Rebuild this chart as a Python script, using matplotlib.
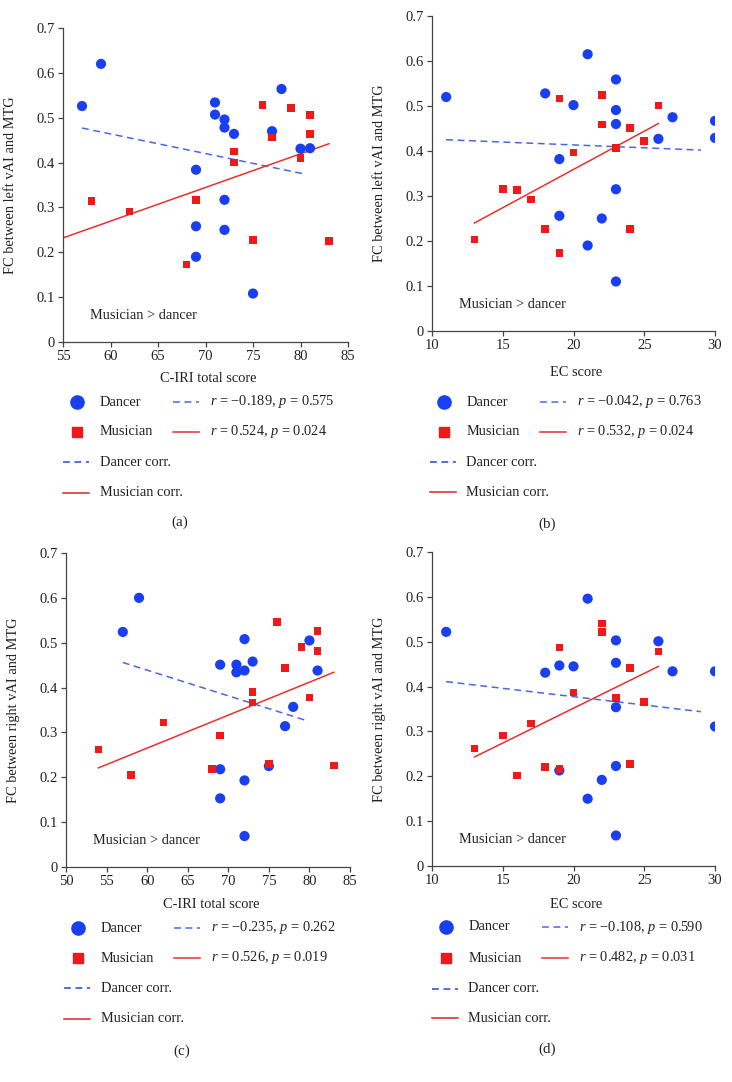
import matplotlib
matplotlib.use("Agg")
import matplotlib.pyplot as plt
from matplotlib.lines import Line2D

W, H = 732, 1082

plt.rcParams["font.family"] = ["Liberation Serif", "DejaVu Serif"]
plt.rcParams["mathtext.fontset"] = "custom"
plt.rcParams["mathtext.rm"] = "Liberation Serif"
plt.rcParams["mathtext.it"] = "Liberation Serif:italic"

BLUE = "#1a3ff0"
RED = "#ee1a1a"
BLUE_LINE = "#4a66e6"
RED_LINE = "#e8302f"

# ---- data ----
# (a) left vAI-MTG vs C-IRI total score
a_dancer_x = [57, 59, 71, 71, 72, 72, 73, 78, 77, 80, 81, 69, 72, 69, 72, 69, 75]
a_dancer_y = [0.526, 0.620, 0.534, 0.507, 0.496, 0.478, 0.464, 0.564, 0.470, 0.431, 0.432,
              0.384, 0.317, 0.258, 0.250, 0.190, 0.108]
a_musician_x = [58, 62, 69, 68, 73, 73, 75, 76, 77, 79, 81, 81, 80, 83]
a_musician_y = [0.315, 0.291, 0.317, 0.173, 0.425, 0.400, 0.227, 0.528, 0.456, 0.522,
                0.506, 0.464, 0.410, 0.225]
a_dancer_fit_x, a_dancer_fit_y = [57, 80.3], [0.477, 0.375]
a_musician_fit_x, a_musician_fit_y = [55, 83], [0.232, 0.442]

# (b) left vAI-MTG vs EC score
b_dancer_x = [11, 21, 23, 18, 20, 23, 23, 26, 27, 30, 30, 19, 23, 19, 22, 21, 23]
b_dancer_y = [0.520, 0.615, 0.559, 0.528, 0.502, 0.491, 0.460, 0.427, 0.475, 0.467, 0.429,
              0.382, 0.315, 0.256, 0.250, 0.190, 0.110]
b_musician_x = [19, 22, 22, 24, 26, 25, 23, 20, 15, 16, 17, 18, 24, 13, 19]
b_musician_y = [0.517, 0.524, 0.459, 0.451, 0.501, 0.422, 0.406, 0.397, 0.316, 0.314,
                0.292, 0.226, 0.227, 0.203, 0.174]
b_dancer_fit_x, b_dancer_fit_y = [11, 29], [0.425, 0.402]
b_musician_fit_x, b_musician_fit_y = [13, 26], [0.240, 0.461]

# (c) right vAI-MTG vs C-IRI total score
c_dancer_x = [57, 59, 72, 69, 71, 71, 72, 73, 80, 81, 78, 77, 75, 69, 72, 69, 72]
c_dancer_y = [0.524, 0.600, 0.508, 0.451, 0.451, 0.434, 0.438, 0.458, 0.505, 0.438, 0.357,
              0.314, 0.225, 0.218, 0.193, 0.153, 0.069]
c_musician_x = [54, 58, 62, 69, 68, 73, 73, 75, 76, 77, 79, 81, 81, 80, 83]
c_musician_y = [0.262, 0.205, 0.322, 0.293, 0.219, 0.390, 0.367, 0.229, 0.546, 0.443,
                0.490, 0.526, 0.482, 0.378, 0.226]
c_dancer_fit_x, c_dancer_fit_y = [57, 79.9], [0.456, 0.325]
c_musician_fit_x, c_musician_fit_y = [54, 83], [0.221, 0.434]

# (d) right vAI-MTG vs EC score
d_dancer_x = [11, 21, 23, 26, 23, 18, 19, 20, 27, 30, 23, 30, 23, 19, 22, 21, 23]
d_dancer_y = [0.522, 0.596, 0.503, 0.501, 0.453, 0.431, 0.447, 0.445, 0.434, 0.434, 0.354,
              0.311, 0.223, 0.213, 0.192, 0.150, 0.068]
d_musician_x = [13, 15, 16, 17, 18, 19, 19, 20, 22, 22, 23, 24, 24, 25, 26]
d_musician_y = [0.262, 0.291, 0.202, 0.318, 0.221, 0.216, 0.487, 0.387, 0.541, 0.522,
                0.375, 0.441, 0.228, 0.365, 0.478]
d_dancer_fit_x, d_dancer_fit_y = [11, 29], [0.411, 0.344]
d_musician_fit_x, d_musician_fit_y = [13, 26], [0.243, 0.445]

stats_dancer = ["\u22120.189, $p$ = 0.575", "\u22120.042, $p$ = 0.763",
                "\u22120.235, $p$ = 0.262", "\u22120.108, $p$ = 0.590"]
stats_musician = ["0.524, $p$ = 0.024", "0.532, $p$ = 0.024",
                  "0.526, $p$ = 0.019", "0.482, $p$ = 0.031"]
x_labels = ["C-IRI total score", "EC score", "C-IRI total score", "EC score"]
y_labels = ["FC between left vAI and MTG", "FC between left vAI and MTG",
            "FC between right vAI and MTG", "FC between right vAI and MTG"]
x_ranges = [(55, 85), (10, 30), (50, 85), (10, 30)]
tags = ["(a)", "(b)", "(c)", "(d)"]

panels = [
    (a_dancer_x, a_dancer_y, a_musician_x, a_musician_y,
     a_dancer_fit_x, a_dancer_fit_y, a_musician_fit_x, a_musician_fit_y),
    (b_dancer_x, b_dancer_y, b_musician_x, b_musician_y,
     b_dancer_fit_x, b_dancer_fit_y, b_musician_fit_x, b_musician_fit_y),
    (c_dancer_x, c_dancer_y, c_musician_x, c_musician_y,
     c_dancer_fit_x, c_dancer_fit_y, c_musician_fit_x, c_musician_fit_y),
    (d_dancer_x, d_dancer_y, d_musician_x, d_musician_y,
     d_dancer_fit_x, d_dancer_fit_y, d_musician_fit_x, d_musician_fit_y),
]

# layout in pixels (axes box, x label y, key rows, key left, tag position)
layout = [
    dict(box=(63, 348, 28, 342), xlab=379, rows=(402, 432, 462, 493), key=63, tag=(180, 522)),
    dict(box=(432, 715, 16, 331), xlab=372, rows=(402, 432, 462, 492), key=430, tag=(547, 524)),
    dict(box=(66, 350, 553, 867), xlab=905, rows=(928, 958, 988, 1019), key=64, tag=(182, 1051)),
    dict(box=(432, 715, 552, 866), xlab=905, rows=(927, 958, 989, 1018), key=432, tag=(547, 1049)),
]


def fx(x):
    return x / W


def fy(y):
    return 1 - y / H


fig = plt.figure(figsize=(W / 100, H / 100), dpi=100)
FS = 10.4
TEXT = "#222222"
DASH = (0, (4.5, 3))

for i, (dx, dy, mx, my, dfx, dfy, mfx, mfy) in enumerate(panels):
    lay = layout[i]
    l, r, t, b = lay["box"]
    ax = fig.add_axes([fx(l), fy(b), (r - l) / W, (b - t) / H])
    ax.plot(dfx, dfy, color=BLUE_LINE, lw=1.1, ls=DASH, zorder=2)
    ax.plot(mfx, mfy, color=RED_LINE, lw=1.1, zorder=2)
    ax.scatter(dx, dy, s=54, marker="o", color=BLUE, edgecolors="none", zorder=3)
    ax.scatter(mx, my, s=30, marker="s", color=RED, edgecolors="none", zorder=4)

    ax.set_xlim(*x_ranges[i])
    ax.set_ylim(0, 0.7)
    lo, hi = x_ranges[i]
    ax.set_xticks(range(lo, hi + 1, 5))
    ax.set_yticks([0, 0.1, 0.2, 0.3, 0.4, 0.5, 0.6, 0.7])
    ax.set_yticklabels(["0", "0.1", "0.2", "0.3", "0.4", "0.5", "0.6", "0.7"])
    for s in ["top", "right"]:
        ax.spines[s].set_visible(False)
    for s in ["left", "bottom"]:
        ax.spines[s].set_color("#444444")
        ax.spines[s].set_linewidth(0.9)
    ax.tick_params(direction="out", length=3.5, width=0.9, color="#444444",
                   labelsize=10.5, pad=2.5, labelcolor=TEXT)
    ax.set_ylabel(y_labels[i], fontsize=FS, color=TEXT)
    ax.yaxis.set_label_coords(-46 / (r - l), 0.5)
    ax.text(0.095, 0.085, "Musician > dancer", transform=ax.transAxes, fontsize=FS,
            color=TEXT, va="center", ha="left")

    # x label
    fig.text(fx((l + r) / 2 + 3), fy(lay["xlab"]), x_labels[i], fontsize=FS,
             color=TEXT, ha="center", va="center")

    # key below the panel
    k = lay["key"]
    r1, r2, r3, r4 = lay["rows"]
    fig.add_artist(Line2D([fx(k + 13.5)], [fy(r1)], transform=fig.transFigure,
                          marker="o", ms=9.5, color=BLUE, ls="none"))
    fig.add_artist(Line2D([fx(k + 13.5)], [fy(r2)], transform=fig.transFigure,
                          marker="s", ms=7.5, color=RED, ls="none"))
    fig.text(fx(k + 36.5), fy(r1), "Dancer", fontsize=FS, va="center", color=TEXT)
    fig.text(fx(k + 36.5), fy(r2), "Musician", fontsize=FS, va="center", color=TEXT)
    fig.add_artist(Line2D([fx(k + 110), fx(k + 136)], [fy(r1), fy(r1)],
                          transform=fig.transFigure, color=BLUE_LINE, lw=1.1, ls=DASH))
    fig.add_artist(Line2D([fx(k + 110), fx(k + 136)], [fy(r2), fy(r2)],
                          transform=fig.transFigure, color=RED_LINE, lw=1.1))
    fig.text(fx(k + 147), fy(r1), "$r$ = " + stats_dancer[i], fontsize=FS,
             va="center", color=TEXT)
    fig.text(fx(k + 147), fy(r2), "$r$ = " + stats_musician[i], fontsize=FS,
             va="center", color=TEXT)
    fig.add_artist(Line2D([fx(k), fx(k + 26)], [fy(r3), fy(r3)],
                          transform=fig.transFigure, color="#2a44d8", lw=1.1, ls=DASH))
    fig.add_artist(Line2D([fx(k), fx(k + 26)], [fy(r4), fy(r4)],
                          transform=fig.transFigure, color="#e02020", lw=1.1))
    fig.text(fx(k + 36.5), fy(r3), "Dancer corr.", fontsize=FS, va="center", color=TEXT)
    fig.text(fx(k + 36.5), fy(r4), "Musician corr.", fontsize=FS, va="center", color=TEXT)

    tx, ty = lay["tag"]
    fig.text(fx(tx), fy(ty), tags[i], fontsize=FS + 0.5, ha="center", va="center",
             color=TEXT)

fig.savefig("out.png", dpi=100)
